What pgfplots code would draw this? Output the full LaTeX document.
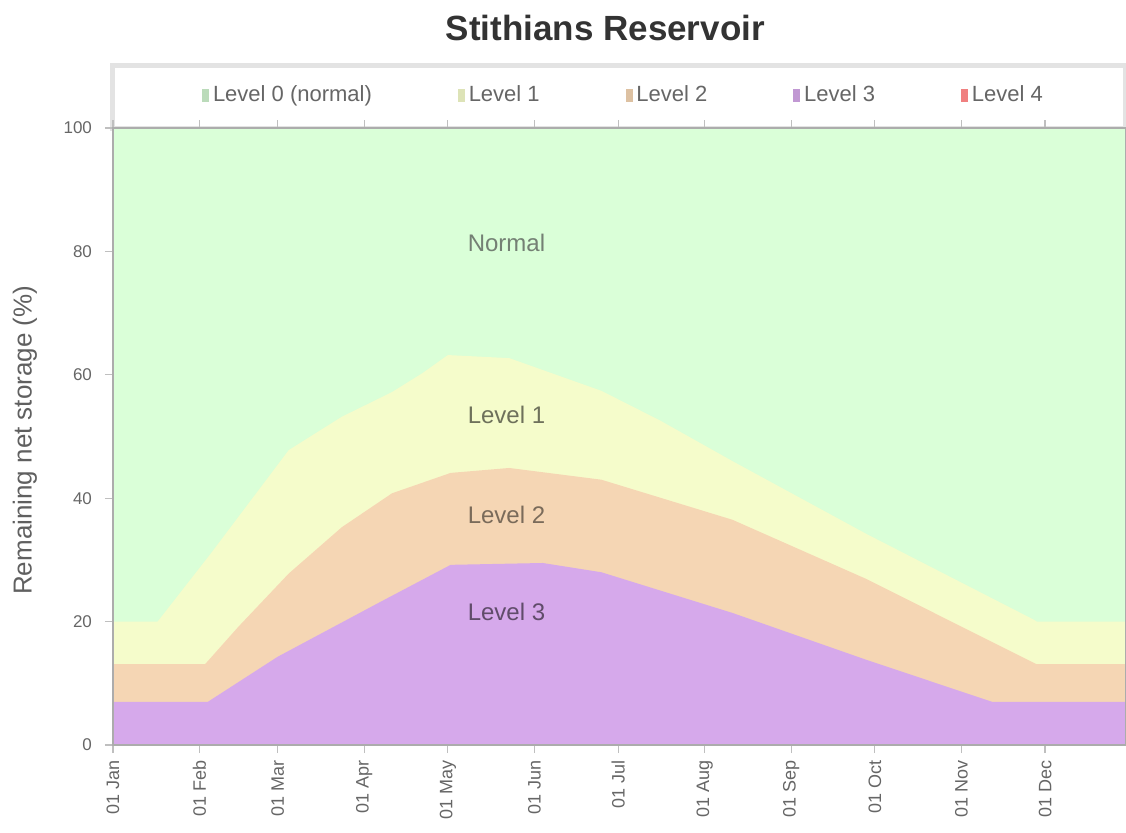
\documentclass[border=0pt]{standalone}
\usepackage{fontspec}
\setmainfont{Liberation Sans}
\usepackage{pgfplots}
\pgfplotsset{compat=1.18}
\definecolor{lvlzero}{HTML}{DAFFD8}
\definecolor{lvlone}{HTML}{F5FCCB}
\definecolor{lvltwo}{HTML}{F5D6B4}
\definecolor{lvlthree}{HTML}{D6A9EB}
\definecolor{lvlfour}{HTML}{F08080}
\begin{document}
\begin{tikzpicture}
\begin{axis}[
  scale only axis, width=506.5pt, height=308.5pt,
  xmin=0, xmax=363, ymin=0, ymax=100,
  clip=false,
  xtick={0,31,59,90,120,151,181,212,243,273,304,334},
  xticklabels={01 Jan,01 Feb,01 Mar,01 Apr,01 May,01 Jun,01 Jul,01 Aug,01 Sep,01 Oct,01 Nov,01 Dec},
  xticklabel style={rotate=90, anchor=east, font=\fontsize{9}{10}\selectfont, text=gray!80!black},
  ytick={0,20,40,60,80,100},
  yticklabel style={font=\fontsize{8.5}{9}\selectfont, text=gray!80!black, xshift=-3pt},
  /pgf/number format/assume math mode=true,
  tick align=outside, major tick length=4pt,
  tick style={gray!50, line width=0.6pt},
  axis line style={draw=gray!65, line width=1.3pt},
  axis on top,
  ylabel={Remaining net storage (\%)},
  every axis y label/.style={at={(axis description cs:-0.087,0.494)}, rotate=90, anchor=center,
     font=\fontsize{13}{15}\selectfont, text=gray!75!black},
  title={\textbf{Stithians Reservoir}},
  every axis title/.style={at={(axis description cs:0.486,1.162)}, anchor=center,
     font=\fontsize{17.5}{20}\selectfont, text=black!80},
  legend style={draw=none, fill=none, legend columns=5,
    at={(axis description cs:0.505,1.0535)}, anchor=center,
    font=\fontsize{11}{13}\selectfont, text=gray!80!black,
    /tikz/every even column/.append style={column sep=41pt}},
]
% legend box
\fill[white, draw=gray!22, line width=2.5pt] (rel axis cs:0,1) rectangle (rel axis cs:1,1.102);
\addplot[fill=lvlzero, draw=none, forget plot] coordinates {(0,100) (363,100)} \closedcycle;
\addplot[fill=lvlone, draw=none, forget plot] coordinates {
(0,20) (16,20) (35,31) (63,47.8) (82,53.2) (100,57.2) (111,60.3) (120,63.2) (142,62.7) (175,57.4) (196,52.6) (222,46) (270,34.2) (330,20.3) (331,20) (363,20)} \closedcycle;
\addplot[fill=lvltwo, draw=none, forget plot] coordinates {
(0,13.1) (33,13.1) (45,19.2) (63,27.8) (82,35.3) (100,40.8) (121,44.1) (142,44.9) (175,43) (222,36.5) (270,26.9) (330,13.3) (331,13.1) (363,13.1)} \closedcycle;
\addplot[fill=lvlthree, draw=none, forget plot] coordinates {
(0,7) (34,7) (59,14.3) (95,23) (121,29.2) (154,29.5) (175,28) (222,21.4) (270,13.8) (315,7) (363,7)} \closedcycle;
\addlegendimage{legend image code/.code={\fill[lvlzero!80!black!70!lvlzero] (0pt,-3pt) rectangle (3pt,3pt);}}
\addlegendentry{Level 0 (normal)}
\addlegendimage{legend image code/.code={\fill[lvlone!90!black] (0pt,-3pt) rectangle (3pt,3pt);}}
\addlegendentry{Level 1}
\addlegendimage{legend image code/.code={\fill[lvltwo!90!black] (0pt,-3pt) rectangle (3pt,3pt);}}
\addlegendentry{Level 2}
\addlegendimage{legend image code/.code={\fill[lvlthree!90!black] (0pt,-3pt) rectangle (3pt,3pt);}}
\addlegendentry{Level 3}
\addlegendimage{legend image code/.code={\fill[lvlfour] (0pt,-3pt) rectangle (3pt,3pt);}}
\addlegendentry{Level 4}
\node[anchor=west, inner sep=0pt, font=\fontsize{12}{14}\selectfont, text=black!50!lvlzero!60!gray] at (axis cs:127,81.4) {Normal};
\node[anchor=west, inner sep=0pt, font=\fontsize{12}{14}\selectfont, text=black!55!lvlone] at (axis cs:127,53.5) {Level 1};
\node[anchor=west, inner sep=0pt, font=\fontsize{12}{14}\selectfont, text=black!50!lvltwo] at (axis cs:127,37.3) {Level 2};
\node[anchor=west, inner sep=0pt, font=\fontsize{12}{14}\selectfont, text=black!55!lvlthree] at (axis cs:127,21.6) {Level 3};
\end{axis}
\pgfresetboundingbox
\useasboundingbox (-56.5pt,-43.5pt) rectangle (506.5pt,372.5pt);
\end{tikzpicture}
\end{document}
